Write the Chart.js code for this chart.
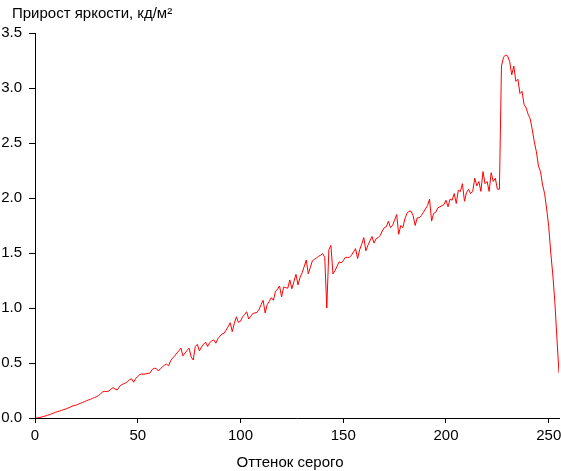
<!DOCTYPE html>
<html>
<head>
<meta charset="utf-8">
<script src="https://cdn.jsdelivr.net/npm/chart.js@4"></script>
<style>
  html, body { margin: 0; padding: 0; background: #fff; }
  #wrap { width: 561px; height: 471px; }
</style>
</head>
<body>
<div id="wrap"><canvas id="chart" width="561" height="471"></canvas></div>
<script>
const chartTitle = 'Прирост яркости, кд/м²';
const xAxisTitle = 'Оттенок серого';
const xTickValues = [0, 50, 100, 150, 200, 250];
const yTickValues = [0, 0.5, 1.0, 1.5, 2.0, 2.5, 3.0, 3.5];

// brightness gain for grey levels 0..255
const brightnessGain = [
    0, 0, 0.003, 0.008, 0.013, 0.018, 0.024, 0.03, 0.038, 0.045,
    0.052, 0.058, 0.063, 0.07, 0.076, 0.082, 0.09, 0.098, 0.107, 0.113,
    0.118, 0.125, 0.133, 0.14, 0.148, 0.156, 0.164, 0.17, 0.178, 0.186,
    0.194, 0.205, 0.222, 0.238, 0.243, 0.24, 0.246, 0.262, 0.276, 0.262,
    0.255, 0.282, 0.302, 0.31, 0.318, 0.33, 0.348, 0.356, 0.325, 0.36,
    0.377, 0.395, 0.40, 0.398, 0.402, 0.405, 0.41, 0.44, 0.452, 0.45,
    0.427, 0.448, 0.465, 0.48, 0.49, 0.475, 0.52, 0.545, 0.565, 0.59,
    0.61, 0.635, 0.565, 0.59, 0.615, 0.635, 0.555, 0.527, 0.65, 0.67,
    0.61, 0.645, 0.67, 0.69, 0.65, 0.685, 0.70, 0.71, 0.68, 0.72,
    0.745, 0.764, 0.77, 0.80, 0.83, 0.866, 0.785, 0.86, 0.92, 0.87,
    0.88, 0.92, 0.94, 0.966, 0.90, 0.925, 0.95, 0.955, 0.96, 0.985,
    1.03, 1.07, 0.955, 1.03, 1.06, 1.094, 1.07, 1.15, 1.17, 1.2,
    1.10, 1.19, 1.185, 1.18, 1.255, 1.175, 1.24, 1.306, 1.21, 1.28,
    1.32, 1.376, 1.436, 1.31, 1.37, 1.43, 1.443, 1.455, 1.47, 1.48,
    1.495, 1.46, 1.0, 1.53, 1.57, 1.31, 1.34, 1.38, 1.42, 1.41,
    1.43, 1.46, 1.46, 1.46, 1.48, 1.51, 1.54, 1.45, 1.53, 1.58,
    1.64, 1.52, 1.57, 1.61, 1.65, 1.59, 1.63, 1.64, 1.66, 1.70,
    1.73, 1.74, 1.79, 1.73, 1.75, 1.80, 1.85, 1.67, 1.75, 1.73,
    1.81, 1.86, 1.88, 1.88, 1.84, 1.75, 1.82, 1.82, 1.84, 1.87,
    1.90, 1.93, 1.99, 1.79, 1.86, 1.87, 1.91, 1.92, 1.93, 1.94,
    1.98, 1.92, 1.99, 1.98, 2.04, 1.95, 2.07, 2.06, 2.13, 1.97,
    2.05, 2.08, 2.04, 2.06, 2.18, 2.11, 2.15, 2.06, 2.24, 2.13,
    2.15, 2.06, 2.23, 2.15, 2.18, 2.08, 2.08, 3.2, 3.28, 3.30,
    3.29, 3.24, 3.12, 3.2, 3.06, 3.08, 2.95, 2.97, 2.85, 2.82,
    2.76, 2.72, 2.62, 2.51, 2.42, 2.29, 2.24, 2.12, 2.04, 1.9,
    1.74, 1.5, 1.3, 1.05, 0.72, 0.41
];
const grayLevels = brightnessGain.map((v, i) => i);

const FONT = 'Liberation Sans, Arial, sans-serif';

const titles = {
    id: 'titles',
    afterDraw(chart) {
        const c = chart.ctx;
        c.save();
        c.fillStyle = '#000';
        c.font = '15px ' + FONT;
        c.textBaseline = 'alphabetic';
        c.textAlign = 'left';
        c.fillText(chartTitle, 12, 18);
        c.textAlign = 'center';
        c.fillText(xAxisTitle, 290, 467);
        c.restore();
    }
};

new Chart(document.getElementById('chart'), {
    type: 'line',
    data: {
        labels: grayLevels,
        datasets: [{
            data: brightnessGain.map((v, i) => ({ x: grayLevels[i], y: v })),
            borderColor: '#ff0000',
            borderWidth: 1,
            pointRadius: 0,
            tension: 0,
            fill: false
        }]
    },
    options: {
        responsive: false,
        animation: false,
        layout: { padding: { top: 33, right: 2, left: 0, bottom: 0 } },
        scales: {
            x: {
                type: 'linear',
                min: 0,
                max: 255,
                afterBuildTicks: s => { s.ticks = xTickValues.map(v => ({ value: v })); },
                afterFit: s => { s.height = 53; s.paddingRight = 0; s.paddingLeft = 0; },
                grid: { drawOnChartArea: false, drawTicks: true, tickLength: 5, color: '#000' },
                border: { color: '#000', width: 1 },
                ticks: { color: '#000', padding: 4, maxRotation: 0, font: { family: FONT, size: 15 } }
            },
            y: {
                min: 0,
                max: 3.5,
                afterBuildTicks: s => { s.ticks = yTickValues.map(v => ({ value: v })); },
                afterFit: s => { s.width = 35; },
                grid: { drawOnChartArea: false, drawTicks: true, tickLength: 6, color: '#000' },
                border: { color: '#000', width: 1 },
                ticks: {
                    color: '#000', padding: 7,
                    font: { family: FONT, size: 15 },
                    callback: v => v.toFixed(1)
                }
            }
        },
        plugins: {
            legend: { display: false },
            tooltip: { enabled: false }
        }
    },
    plugins: [titles]
});
</script>
</body>
</html>
